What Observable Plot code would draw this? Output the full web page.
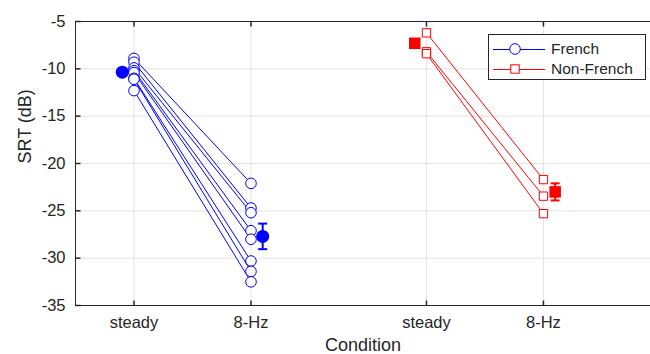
<!DOCTYPE html>
<html><head><meta charset="utf-8">
<script src="https://cdn.jsdelivr.net/npm/d3@7"></script>
<script src="https://cdn.jsdelivr.net/npm/@observablehq/plot@0.6"></script>
<style>
body{margin:0;background:#fff;}
#wrap{position:relative;width:650px;height:354px;font-family:"Liberation Sans",Arial,sans-serif;color:#262626;}
#legend{position:absolute;left:488px;top:34px;width:158px;height:46px;border:1px solid #262626;background:#fff;box-sizing:border-box;font-size:15.5px;}
#legend .row{position:absolute;left:0;height:20px;display:flex;align-items:center;}
#legend svg{display:block;}
#legend span{margin-left:4px;}
</style></head><body><div id="wrap"><div id="legend"></div></div>
<script>
// ---- data ----
const conditions = ["steady", "8-Hz"];
const groups = ["French", "Non-French"];
const groupStart = [1, 3.5];
const colors = ["#0000ff", "#ff0000"];

const frenchSteady = [-8.9, -9.3, -9.9, -10.2, -10.4, -11.0, -11.1, -12.3];
const french8Hz    = [-22.1, -24.7, -25.2, -27.1, -28.0, -30.3, -31.4, -32.5];
const nonFrenchSteady = [-6.2, -8.2, -8.4];
const nonFrench8Hz    = [-21.7, -23.45, -25.3];

const frenchMean = [-10.35, -27.7];
const frenchSem  = [0.4, 1.35];
const nonFrenchMean = [-7.3, -23.0];
const nonFrenchSem  = [0.3, 0.9];

const yTicks = [-35, -30, -25, -20, -15, -10, -5];
const yDomain = [-35, -5];
const xDomain = [0.5, 5.415];
const xTitle = "Condition";
const yTitle = "SRT (dB)";

// ---- build tables ----
const subjects = [
  {g: 0, a: frenchSteady, b: french8Hz},
  {g: 1, a: nonFrenchSteady, b: nonFrench8Hz}
];
const links = [], points = [];
subjects.forEach(({g, a, b}) => {
  a.forEach((v, i) => {
    links.push({g, x1: groupStart[g], y1: v, x2: groupStart[g] + 1, y2: b[i]});
    points.push({g, x: groupStart[g], y: v});
    points.push({g, x: groupStart[g] + 1, y: b[i]});
  });
});
const means = [];
[[frenchMean, frenchSem], [nonFrenchMean, nonFrenchSem]].forEach(([m, s], g) => {
  m.forEach((v, c) => {
    means.push({g, c, x: groupStart[g] + c + (c === 0 ? -0.1 : 0.1), y: v, lo: v - s[c], hi: v + s[c]});
  });
});
const tickPos = [], tickLab = [];
groups.forEach((_, g) => conditions.forEach((c, k) => { tickPos.push(groupStart[g] + k); tickLab.push(c); }));

const sym = (path) => ({draw(ctx) { path(ctx); }});
const tickUp = sym(ctx => { ctx.moveTo(0, 0); ctx.lineTo(0, -5); });
const tickDown = sym(ctx => { ctx.moveTo(0, 0); ctx.lineTo(0, 5); });
const tickRight = sym(ctx => { ctx.moveTo(0, 0); ctx.lineTo(5, 0); });
const cap = sym(ctx => { ctx.moveTo(-4.5, 0); ctx.lineTo(4.5, 0); });

const ink = "#262626";
const plot = Plot.plot({
  width: 650, height: 354,
  marginLeft: 75, marginRight: 0, marginTop: 21, marginBottom: 49,
  style: {fontFamily: '"Liberation Sans", Arial, sans-serif', color: ink, background: "#fff"},
  x: {domain: xDomain},
  y: {domain: yDomain},
  marks: [
    Plot.ruleX(tickPos, {stroke: "#e3e3e3"}),
    Plot.ruleY(yTicks, {stroke: "#e3e3e3"}),
    Plot.ruleY(yDomain, {stroke: ink}),
    Plot.ruleX([xDomain[0]], {stroke: ink}),
    Plot.dot(tickPos, {x: d => d, frameAnchor: "bottom", symbol: tickUp, stroke: ink}),
    Plot.dot(tickPos, {x: d => d, frameAnchor: "top", symbol: tickDown, stroke: ink}),
    Plot.dot(yTicks, {y: d => d, frameAnchor: "left", symbol: tickRight, stroke: ink}),
    Plot.axisX({ticks: tickPos, tickFormat: (d, i) => tickLab[i], tickSize: 0, tickPadding: 11, fontSize: 16.5, label: null}),
    Plot.axisY({ticks: yTicks, tickFormat: d => String(d), tickSize: 0, tickPadding: 10, fontSize: 16.5, label: null}),
    Plot.text([xTitle], {frameAnchor: "bottom", text: d => d, dy: 45, fontSize: 18, fill: ink}),
    Plot.text([yTitle], {frameAnchor: "left", text: d => d, dx: -50, rotate: -90, fontSize: 18, fill: ink}),
    Plot.link(links, {x1: "x1", y1: "y1", x2: "x2", y2: "y2", stroke: d => colors[d.g], strokeWidth: 1}),
    Plot.dot(points.filter(d => d.g === 0), {x: "x", y: "y", r: 5.3, stroke: colors[0], fill: "white", strokeWidth: 1}),
    Plot.dot(points.filter(d => d.g === 1), {x: "x", y: "y", r: 4.7, symbol: "square", stroke: colors[1], fill: "white", strokeWidth: 1}),
    Plot.ruleX(means, {x: "x", y1: "lo", y2: "hi", stroke: d => colors[d.g], strokeWidth: 2}),
    Plot.dot(means, {x: "x", y: "lo", symbol: cap, stroke: d => colors[d.g], strokeWidth: 2}),
    Plot.dot(means, {x: "x", y: "hi", symbol: cap, stroke: d => colors[d.g], strokeWidth: 2}),
    Plot.dot(means.filter(d => d.g === 0), {x: "x", y: "y", r: 6.5, fill: colors[0]}),
    Plot.dot(means.filter(d => d.g === 1), {x: "x", y: "y", r: 6.5, symbol: "square", fill: colors[1]})
  ]
});
plot.style.fontSize = "16.5px";
document.getElementById("wrap").prepend(plot);

// ---- legend ----
const lg = document.getElementById("legend");
groups.forEach((name, g) => {
  const row = document.createElement("div");
  row.className = "row";
  row.style.top = (g === 0 ? 4 : 24) + "px";
  const marker = g === 0
    ? `<circle cx="26" cy="10" r="5.3" fill="white" stroke="${colors[g]}"/>`
    : `<rect x="21.8" y="5.8" width="8.4" height="8.4" fill="white" stroke="${colors[g]}"/>`;
  row.innerHTML = `<svg width="58" height="20"><line x1="4" x2="56" y1="10.5" y2="10.5" stroke="${colors[g]}"/>${marker}</svg><span>${name}</span>`;
  lg.appendChild(row);
});
</script>
</body></html>
